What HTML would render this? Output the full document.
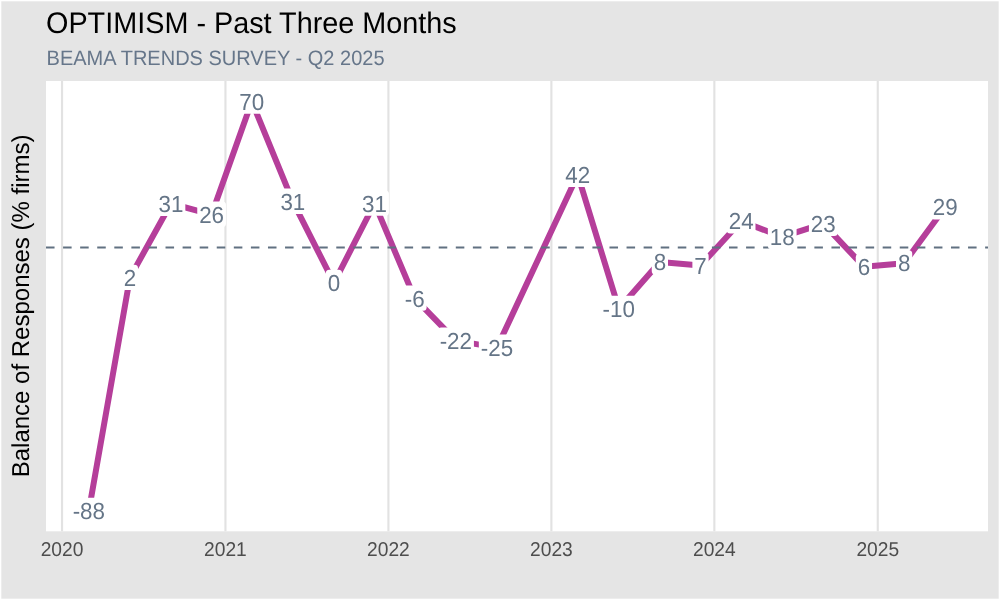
<!DOCTYPE html>
<html><head><meta charset="utf-8"><title>OPTIMISM - Past Three Months</title>
<style>
html,body{margin:0;padding:0;background:#fff;}
body{width:1000px;height:600px;overflow:hidden;font-family:"Liberation Sans",Arial,Helvetica,sans-serif;}
svg{display:block;}
text{font-family:"Liberation Sans",Arial,Helvetica,sans-serif;text-rendering:geometricPrecision;}
</style></head><body>
<svg width="1000" height="600" viewBox="0 0 1000 600">
<rect x="0" y="0" width="1000" height="600" fill="#ffffff"/>
<rect x="1.3" y="1.3" width="997.4" height="597.4" fill="#e5e5e5"/>
<rect x="46.0" y="81.0" width="942.0" height="450.29999999999995" fill="#ffffff"/>

<line x1="62.03" y1="81.0" x2="62.03" y2="531.3" stroke="#e2e2e2" stroke-width="2.14"/>
<line x1="225.44" y1="81.0" x2="225.44" y2="531.3" stroke="#e2e2e2" stroke-width="2.14"/>
<line x1="388.41" y1="81.0" x2="388.41" y2="531.3" stroke="#e2e2e2" stroke-width="2.14"/>
<line x1="551.38" y1="81.0" x2="551.38" y2="531.3" stroke="#e2e2e2" stroke-width="2.14"/>
<line x1="714.35" y1="81.0" x2="714.35" y2="531.3" stroke="#e2e2e2" stroke-width="2.14"/>
<line x1="877.76" y1="81.0" x2="877.76" y2="531.3" stroke="#e2e2e2" stroke-width="2.14"/>
<polyline points="88.82,510.83 129.90,277.65 170.97,203.52 211.60,214.56 251.79,101.47 292.86,201.61 333.94,282.83 374.57,203.42 414.75,298.38 455.83,340.61 496.91,347.60 577.72,174.71 618.80,308.74 659.88,262.10 700.51,265.47 741.14,221.17 782.21,236.89 823.29,223.63 863.92,266.64 904.10,263.14 945.18,207.18" fill="none" stroke="#b53e9a" stroke-width="6.0" stroke-linejoin="round" stroke-linecap="butt"/>
<line x1="46.0" y1="247.4" x2="988.0" y2="247.4" stroke="#617181" stroke-width="2.0" stroke-dasharray="8.54 8.535"/>
<rect x="70.73" y="497.83" width="36.17" height="25.4" rx="3.5" fill="#ffffff"/>
<text transform="translate(88.82,519.13) scale(1,1.04)" font-size="22.4" fill="#657587" text-anchor="middle">-88</text>
<rect x="121.77" y="264.65" width="16.25" height="25.4" rx="3.5" fill="#ffffff"/>
<text transform="translate(129.90,285.95) scale(1,1.04)" font-size="22.4" fill="#657587" text-anchor="middle">2</text>
<rect x="156.62" y="190.52" width="28.71" height="25.4" rx="3.5" fill="#ffffff"/>
<text transform="translate(170.97,211.82) scale(1,1.04)" font-size="22.4" fill="#657587" text-anchor="middle">31</text>
<rect x="197.25" y="201.56" width="28.71" height="25.4" rx="3.5" fill="#ffffff"/>
<text transform="translate(211.60,222.86) scale(1,1.04)" font-size="22.4" fill="#657587" text-anchor="middle">26</text>
<rect x="237.43" y="88.47" width="28.71" height="25.4" rx="3.5" fill="#ffffff"/>
<text transform="translate(251.79,109.77) scale(1,1.04)" font-size="22.4" fill="#657587" text-anchor="middle">70</text>
<rect x="278.51" y="188.61" width="28.71" height="25.4" rx="3.5" fill="#ffffff"/>
<text transform="translate(292.86,209.91) scale(1,1.04)" font-size="22.4" fill="#657587" text-anchor="middle">31</text>
<rect x="325.81" y="269.83" width="16.25" height="25.4" rx="3.5" fill="#ffffff"/>
<text transform="translate(333.94,291.13) scale(1,1.04)" font-size="22.4" fill="#657587" text-anchor="middle">0</text>
<rect x="360.22" y="190.42" width="28.71" height="25.4" rx="3.5" fill="#ffffff"/>
<text transform="translate(374.57,211.72) scale(1,1.04)" font-size="22.4" fill="#657587" text-anchor="middle">31</text>
<rect x="402.90" y="285.38" width="23.71" height="25.4" rx="3.5" fill="#ffffff"/>
<text transform="translate(414.75,306.68) scale(1,1.04)" font-size="22.4" fill="#657587" text-anchor="middle">-6</text>
<rect x="437.75" y="327.61" width="36.17" height="25.4" rx="3.5" fill="#ffffff"/>
<text transform="translate(455.83,348.91) scale(1,1.04)" font-size="22.4" fill="#657587" text-anchor="middle">-22</text>
<rect x="478.82" y="334.60" width="36.17" height="25.4" rx="3.5" fill="#ffffff"/>
<text transform="translate(496.91,355.90) scale(1,1.04)" font-size="22.4" fill="#657587" text-anchor="middle">-25</text>
<rect x="563.37" y="161.71" width="28.71" height="25.4" rx="3.5" fill="#ffffff"/>
<text transform="translate(577.72,183.01) scale(1,1.04)" font-size="22.4" fill="#657587" text-anchor="middle">42</text>
<rect x="600.72" y="295.74" width="36.17" height="25.4" rx="3.5" fill="#ffffff"/>
<text transform="translate(618.80,317.04) scale(1,1.04)" font-size="22.4" fill="#657587" text-anchor="middle">-10</text>
<rect x="651.75" y="249.10" width="16.25" height="25.4" rx="3.5" fill="#ffffff"/>
<text transform="translate(659.88,270.40) scale(1,1.04)" font-size="22.4" fill="#657587" text-anchor="middle">8</text>
<rect x="692.38" y="252.47" width="16.25" height="25.4" rx="3.5" fill="#ffffff"/>
<text transform="translate(700.51,273.77) scale(1,1.04)" font-size="22.4" fill="#657587" text-anchor="middle">7</text>
<rect x="726.78" y="208.17" width="28.71" height="25.4" rx="3.5" fill="#ffffff"/>
<text transform="translate(741.14,229.47) scale(1,1.04)" font-size="22.4" fill="#657587" text-anchor="middle">24</text>
<rect x="767.86" y="223.89" width="28.71" height="25.4" rx="3.5" fill="#ffffff"/>
<text transform="translate(782.21,245.19) scale(1,1.04)" font-size="22.4" fill="#657587" text-anchor="middle">18</text>
<rect x="808.94" y="210.63" width="28.71" height="25.4" rx="3.5" fill="#ffffff"/>
<text transform="translate(823.29,231.93) scale(1,1.04)" font-size="22.4" fill="#657587" text-anchor="middle">23</text>
<rect x="855.79" y="253.64" width="16.25" height="25.4" rx="3.5" fill="#ffffff"/>
<text transform="translate(863.92,274.94) scale(1,1.04)" font-size="22.4" fill="#657587" text-anchor="middle">6</text>
<rect x="895.98" y="250.14" width="16.25" height="25.4" rx="3.5" fill="#ffffff"/>
<text transform="translate(904.10,271.44) scale(1,1.04)" font-size="22.4" fill="#657587" text-anchor="middle">8</text>
<rect x="930.83" y="194.18" width="28.71" height="25.4" rx="3.5" fill="#ffffff"/>
<text transform="translate(945.18,215.48) scale(1,1.04)" font-size="22.4" fill="#657587" text-anchor="middle">29</text>
<text transform="translate(62.03,556) scale(1,1.04)" font-size="19.2" fill="#4d4d4d" text-anchor="middle">2020</text>
<text transform="translate(225.44,556) scale(1,1.04)" font-size="19.2" fill="#4d4d4d" text-anchor="middle">2021</text>
<text transform="translate(388.41,556) scale(1,1.04)" font-size="19.2" fill="#4d4d4d" text-anchor="middle">2022</text>
<text transform="translate(551.38,556) scale(1,1.04)" font-size="19.2" fill="#4d4d4d" text-anchor="middle">2023</text>
<text transform="translate(714.35,556) scale(1,1.04)" font-size="19.2" fill="#4d4d4d" text-anchor="middle">2024</text>
<text transform="translate(877.76,556) scale(1,1.04)" font-size="19.2" fill="#4d4d4d" text-anchor="middle">2025</text>
<text transform="translate(46,32.56) scale(1,1.03)" font-size="28.8" fill="#000000">OPTIMISM - Past Three Months</text>
<text transform="translate(46.6,64.96) scale(1,1.04)" font-size="20" fill="#66768a">BEAMA TRENDS SURVEY - Q2 2025</text>
<text transform="translate(29.3,305.9) rotate(-90) scale(1,1.02)" font-size="24" fill="#000000" text-anchor="middle">Balance of Responses (% firms)</text>
</svg></body></html>
